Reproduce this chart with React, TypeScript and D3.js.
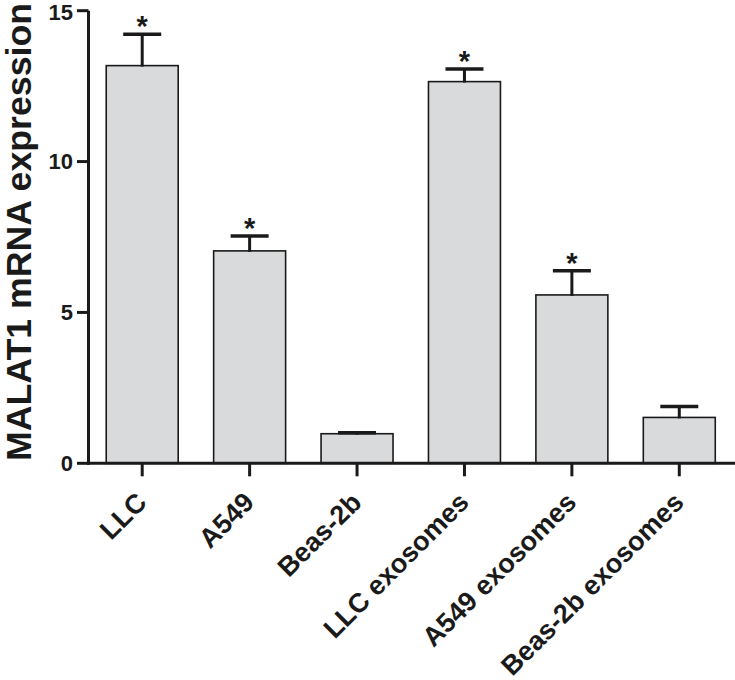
import React from "react";
import * as d3 from "d3";

const categories = ["LLC", "A549", "Beas-2b", "LLC exosomes", "A549 exosomes", "Beas-2b exosomes"];
const means = [13.18, 7.04, 0.98, 12.65, 5.58, 1.52];
const errors = [1.04, 0.49, 0.03, 0.42, 0.8, 0.36];
const significant = [true, true, false, true, true, false];
const yTicks = [0, 5, 10, 15];
const yTitle = "MALAT1 mRNA expression";

const W = 735;
const H = 680;
const FONT = "'Liberation Sans', Arial, Helvetica, sans-serif";

export default function App() {
  const axisX = 88.5;
  const x = d3
    .scaleBand<string>()
    .domain(categories)
    .range([axisX, 733])
    .paddingInner(0.33)
    .paddingOuter(0.165);
  const y = d3.scaleLinear().domain([0, 15]).range([463.3, 10.7]);
  const bw = x.bandwidth();
  const capW = 38;
  const tickFs = 22;

  return (
    <svg
      width={W}
      height={H}
      style={{ position: "absolute", left: 0, top: 0, background: "#fff" }}
      fontFamily={FONT}
    >
      {/* bars */}
      {categories.map((c, i) => {
        const x0 = x(c)!;
        const cx = x0 + bw / 2;
        const top = y(means[i]);
        const capY = y(means[i] + errors[i]);
        return (
          <g key={c}>
            <rect
              x={x0}
              y={top}
              width={bw}
              height={y(0) - top}
              fill="#d9dadc"
              stroke="#1a1a1a"
              strokeWidth={1.6}
            />
            <line x1={cx} x2={cx} y1={top + 1} y2={capY} stroke="#1a1a1a" strokeWidth={3} />
            <line
              x1={cx - capW / 2}
              x2={cx + capW / 2}
              y1={capY}
              y2={capY}
              stroke="#1a1a1a"
              strokeWidth={3.5}
            />
            {significant[i] && (
              <text
                x={cx}
                y={capY + 2}
                textAnchor="middle"
                fontSize={29}
                fontWeight="bold"
                fill="#1a1a1a"
              >
                *
              </text>
            )}
            {/* x tick */}
            <line x1={cx} x2={cx} y1={y(0)} y2={y(0) + 13} stroke="#1a1a1a" strokeWidth={3} />
            <text
              transform={`translate(${cx + 6},${504}) rotate(-45)`}
              textAnchor="end"
              fontSize={27}
              fontWeight="bold"
              fill="#1a1a1a"
            >
              {c}
            </text>
          </g>
        );
      })}

      {/* axes */}
      <line x1={axisX} x2={axisX} y1={y(15)} y2={y(0) + 1.5} stroke="#1a1a1a" strokeWidth={3} />
      <line x1={axisX - 1.5} x2={735} y1={y(0)} y2={y(0)} stroke="#1a1a1a" strokeWidth={3} />
      {yTicks.map((t) => (
        <g key={t}>
          <line x1={77} x2={axisX} y1={y(t)} y2={y(t)} stroke="#1a1a1a" strokeWidth={3} />
          <text
            x={73}
            y={Math.max(y(t) + 0.36 * tickFs, 0.92 * tickFs)}
            textAnchor="end"
            fontSize={tickFs}
            fontWeight="bold"
            fill="#1a1a1a"
          >
            {t}
          </text>
        </g>
      ))}

      {/* y title */}
      <text
        transform={`translate(31,461) rotate(-90)`}
        textAnchor="start"
        fontSize={35}
        fontWeight="bold"
        fill="#1a1a1a"
        textLength={458}
        lengthAdjust="spacingAndGlyphs"
      >
        {yTitle}
      </text>
    </svg>
  );
}
